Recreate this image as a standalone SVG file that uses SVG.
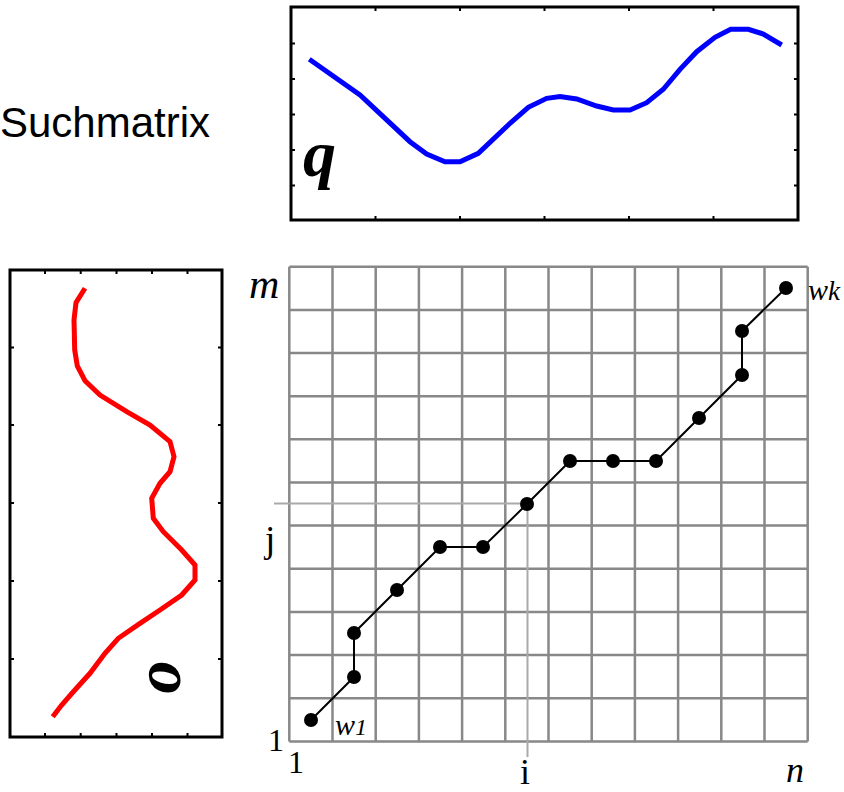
<svg xmlns="http://www.w3.org/2000/svg" width="844" height="792" viewBox="0 0 844 792">
<style>
.frame{fill:none;stroke:#000;stroke-width:3}
.tick{stroke:#000;stroke-width:2}
.grid{stroke:#888;stroke-width:2.5;fill:none}
.hl{stroke:#aaa;stroke-width:2;fill:none}
.path{stroke:#000;stroke-width:2;fill:none}
.dot{fill:#000}
.lbl{font-family:"Liberation Serif","Times New Roman",serif;fill:#000}
.it{font-style:italic}
.big{font-family:"Liberation Serif","Times New Roman",serif;font-style:italic;font-weight:bold;fill:#000}
</style>
<rect width="844" height="792" fill="#fff"/>
<g id="title">
<text x="0" y="137" font-family="'Liberation Sans',Arial,sans-serif" font-size="42" fill="#000">Suchmatrix</text>
</g>
<g id="query-chart">
<rect class="frame" x="291" y="7" width="507" height="213"/>
<path class="tick" d="M375.5 7v4M460 7v4M544.5 7v4M629 7v4M713.5 7v4M375.5 220v-4M460 220v-4M544.5 220v-4M629 220v-4M713.5 220v-4M291 43.5h4M291 79h4M291 114.5h4M291 150h4M291 185.5h4M798 43.5h-4M798 79h-4M798 114.5h-4M798 150h-4M798 185.5h-4"/>
<polyline fill="none" stroke="#0000ff" stroke-width="5" points="309.3,59.3 360,95 410,141.7 426.7,154 445,161.7 460,161.7 478.3,153.3 510,123.3 528.3,107.3 546.7,98.3 560,96.5 576.7,99 596.7,106 613.3,110 630,110 646.7,102.7 663.3,89.3 680,69.3 696.7,51.7 715,37.3 730.7,29.3 748.3,29.3 763.3,34 781.7,45"/>
<text class="big" x="303" y="176" font-size="66">q</text>
</g>
<g id="data-chart">
<rect class="frame" x="10" y="270" width="212" height="467"/>
<path class="tick" d="M45 270v4M80.7 270v4M116.5 270v4M152 270v4M187.5 270v4M45 737v-4M80.7 737v-4M116.5 737v-4M152 737v-4M187.5 737v-4M10 347.5h4M10 425h4M10 503h4M10 581h4M10 659h4M222 347.5h-4M222 425h-4M222 503h-4M222 581h-4M222 659h-4"/>
<polyline fill="none" stroke="#ff0000" stroke-width="5" points="85,288.3 76,302.7 74,320 74.7,350 77.3,366 85,380.7 100,395 126.7,411.7 150,425 170,441.7 174,456.7 170,471.7 160,483.3 151.7,498.3 153.3,518.3 163.3,531.7 181.7,550 195,565 195,580 181.7,595 160,610 140,623.3 118.3,638.3 105,653.3 90,673.3 73.3,691.7 61.7,705 52.7,716.7"/>
<text class="big" x="0" y="0" font-size="66" text-anchor="middle" transform="translate(180,677) rotate(-90)">o</text>
</g>
<g id="grid">
<path class="grid" d="M289.3 266.7V741.4M332.5 266.7V741.4M375.7 266.7V741.4M418.9 266.7V741.4M462.1 266.7V741.4M505.3 266.7V741.4M548.5 266.7V741.4M591.7 266.7V741.4M634.9 266.7V741.4M678.1 266.7V741.4M721.3 266.7V741.4M764.5 266.7V741.4M807.7 266.7V741.4M289.3 266.7H807.7M289.3 309.9H807.7M289.3 353H807.7M289.3 396.2H807.7M289.3 439.3H807.7M289.3 482.5H807.7M289.3 525.6H807.7M289.3 568.8H807.7M289.3 611.9H807.7M289.3 655.1H807.7M289.3 698.2H807.7M289.3 741.4H807.7"/>
<path class="hl" d="M274 503.5H527.5M527.5 503.5V757"/>
<text class="lbl it" x="249" y="298" font-size="42">m</text>
<text class="lbl" x="265" y="552" font-size="37">j</text>
<text class="lbl" x="520" y="784" font-size="36">i</text>
<text class="lbl it" x="786" y="782" font-size="36">n</text>
<text class="lbl" x="268" y="751" font-size="32">1</text>
<text class="lbl" x="288" y="773" font-size="32">1</text>
<text class="lbl it" x="808" y="300" font-size="30">w<tspan font-size="27">k</tspan></text>
<text class="lbl it" x="335" y="735" font-size="30">w<tspan font-size="24">1</tspan></text>
</g>
<g id="connectors">
<polyline class="path" points="311,720 354,677 354,633 397,590 440,547 483,547 527,504 570,461 613,461 656,461 699,418 742,375 742,331 786,288"/>
</g>
<g id="nodes">
<circle id="w1" class="dot" cx="311" cy="720" r="7"/>
<circle id="n2" class="dot" cx="354" cy="677" r="7"/>
<circle id="n3" class="dot" cx="354" cy="633" r="7"/>
<circle id="n4" class="dot" cx="397" cy="590" r="7"/>
<circle id="n5" class="dot" cx="440" cy="547" r="7"/>
<circle id="n6" class="dot" cx="483" cy="547" r="7"/>
<circle id="n7" class="dot" cx="527" cy="504" r="7"/>
<circle id="n8" class="dot" cx="570" cy="461" r="7"/>
<circle id="n9" class="dot" cx="613" cy="461" r="7"/>
<circle id="n10" class="dot" cx="656" cy="461" r="7"/>
<circle id="n11" class="dot" cx="699" cy="418" r="7"/>
<circle id="n12" class="dot" cx="742" cy="375" r="7"/>
<circle id="n13" class="dot" cx="742" cy="331" r="7"/>
<circle id="wk" class="dot" cx="786" cy="288" r="7"/>
</g>
</svg>
